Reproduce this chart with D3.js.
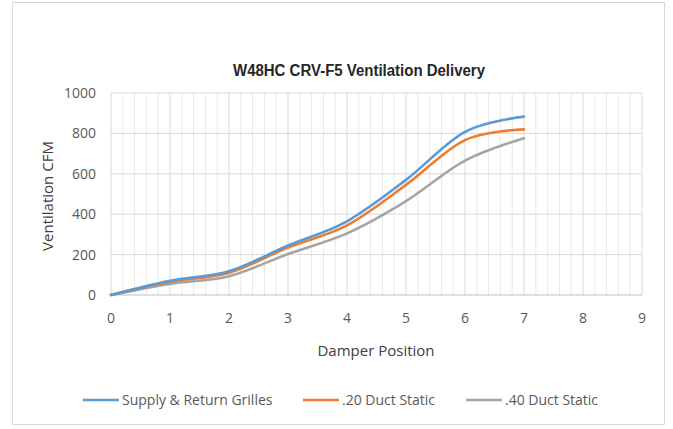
<!DOCTYPE html>
<html>
<head>
<meta charset="utf-8">
<script src="https://cdn.jsdelivr.net/npm/d3@7"></script>
<style>
  body { margin: 0; background: #fff; }
  svg text { font-family: "Open Sans", sans-serif; fill: #595959; }
</style>
</head>
<body>
<script>
'use strict';

// damper positions and delivery (CFM) per series
const positions = [0, 1, 2, 3, 4, 5, 6, 7];
const supplyReturn = [0, 70, 118, 245, 365, 570, 808, 883];
const duct20 = [0, 65, 110, 235, 345, 545, 767, 820];
const duct40 = [0, 55, 93, 203, 305, 465, 665, 776];
const seriesNames = ["Supply & Return Grilles", ".20 Duct Static", ".40 Duct Static"];
const seriesColors = ["#5B9BD5", "#ED7D31", "#A5A5A5"];
const xTicks = [0, 1, 2, 3, 4, 5, 6, 7, 8, 9];
const yTicks = [0, 200, 400, 600, 800, 1000];

const svg = d3.select("body").append("svg")
  .attr("width", 673)
  .attr("height", 429);

// outer chart frame
svg.append("rect")
  .attr("x", 12.5).attr("y", 2.5)
  .attr("width", 652).attr("height", 422)
  .attr("fill", "#fff")
  .attr("stroke", "#D9D9D9");

let xScale = d3.scaleLinear().domain([0, 9]).range([111, 642]);
let yScale = d3.scaleLinear().domain([0, 1000]).range([295, 93]);

// minor vertical gridlines (0.2 steps)
let minor = d3.range(0, 9.001, 0.2).filter(v => Math.abs(v - Math.round(v)) > 0.01);
svg.append("g").selectAll("line")
  .data(minor).enter().append("line")
  .attr("x1", d => xScale(d)).attr("x2", d => xScale(d))
  .attr("y1", yScale(1000)).attr("y2", yScale(0))
  .attr("stroke", "#E8E8E8");

// major gridlines
svg.append("g").selectAll("line")
  .data(xTicks).enter().append("line")
  .attr("x1", d => xScale(d)).attr("x2", d => xScale(d))
  .attr("y1", yScale(1000)).attr("y2", yScale(0))
  .attr("stroke", "#D9D9D9");
svg.append("g").selectAll("line")
  .data(yTicks).enter().append("line")
  .attr("x1", xScale(0)).attr("x2", xScale(9))
  .attr("y1", d => yScale(d)).attr("y2", d => yScale(d))
  .attr("stroke", d => d === 0 ? "#BFBFBF" : "#D9D9D9");

// tick labels
svg.append("g").selectAll("text")
  .data(xTicks).enter().append("text")
  .attr("x", d => xScale(d))
  .attr("y", 323)
  .attr("text-anchor", "middle")
  .style("font-size", "14px")
  .text(d => d);
svg.append("g").selectAll("text")
  .data(yTicks).enter().append("text")
  .attr("x", 96)
  .attr("y", d => yScale(d) + 5)
  .attr("text-anchor", "end")
  .style("font-size", "14px")
  .text(d => d);

// series lines
let allSeries = [supplyReturn, duct20, duct40];
let line = d3.line()
  .x((d, i) => xScale(positions[i]))
  .y(d => yScale(d))
  .curve(d3.curveCardinal);

svg.append("g").selectAll("path")
  .data(allSeries.slice().reverse()).enter().append("path")
  .attr("d", d => line(d))
  .attr("fill", "none")
  .attr("stroke", (d, i) => seriesColors[2 - i])
  .attr("stroke-width", 2.6)
  .attr("stroke-linecap", "round");

// titles
svg.append("text")
  .attr("x", 359).attr("y", 76)
  .attr("text-anchor", "middle")
  .attr("textLength", 252)
  .attr("lengthAdjust", "spacingAndGlyphs")
  .style("font-family", "'Liberation Sans Narrow', 'Liberation Sans', sans-serif")
  .style("font-weight", "bold")
  .style("font-size", "16px")
  .style("fill", "#262626")
  .text("W48HC CRV-F5 Ventilation Delivery");

svg.append("text")
  .attr("x", 376).attr("y", 356)
  .attr("text-anchor", "middle")
  .style("font-size", "15px")
  .style("fill", "#404040")
  .text("Damper Position");

svg.append("text")
  .attr("transform", "translate(53, 196) rotate(-90)")
  .attr("text-anchor", "middle")
  .style("font-size", "15px")
  .style("fill", "#404040")
  .text("Ventilation CFM");

// legend
let legendX = [83, 303, 466];
let legend = svg.append("g").selectAll("g")
  .data(seriesNames).enter().append("g")
  .attr("transform", (d, i) => "translate(" + legendX[i] + ", 400)");
legend.append("line")
  .attr("x1", 0).attr("x2", 36)
  .attr("stroke", (d, i) => seriesColors[i])
  .attr("stroke-width", 2.6);
legend.append("text")
  .attr("x", 39).attr("y", 5)
  .style("font-size", "14px")
  .text(d => d);
</script>
</body>
</html>
